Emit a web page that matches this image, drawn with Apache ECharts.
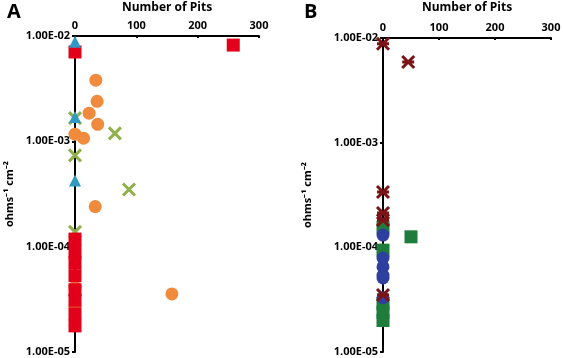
<!DOCTYPE html>
<html>
<head>
<meta charset="utf-8">
<script src="https://cdn.jsdelivr.net/npm/echarts@6/dist/echarts.min.js"></script>
<style>
  html, body { margin: 0; padding: 0; background: #fff; }
  #chart { width: 563px; height: 358px; }
</style>
</head>
<body>
<div id="chart"></div>
<script>
// panel A
var aOrange = [[34, 0.00381], [36, 0.0024], [23, 0.00185], [37, 0.00145], [0, 0.00117], [14, 0.00107],
               [33, 0.00024], [158, 3.56e-5], [0, 7.8e-5], [0, 4.1e-5], [0, 2.7e-5]];
var aGreenX = [[0, 0.00166], [65, 0.00119], [0, 0.000736], [88, 0.000349], [0, 1.38e-4], [0, 3.8e-5]];
var aRed = [[0, 0.00705], [258, 0.0082], [0, 1.18e-4], [0, 9.1e-5], [0, 7.0e-5], [0, 5.3e-5],
            [0, 3.9e-5], [0, 3.1e-5], [0, 2.3e-5], [0, 1.77e-5]];
var aTriangle = [[0, 0.0088], [0, 0.0017], [0, 0.000425]];
// panel B
var bGreen = [[0, 1.56e-4], [50, 1.26e-4], [0, 9.4e-5], [0, 2.9e-5], [0, 2.4e-5], [0, 2.0e-5]];
var bBlue = [[0, 1.31e-4], [0, 7.9e-5], [0, 6.5e-5], [0, 5.4e-5], [0, 5.1e-5], [0, 3.3e-5]];
var bStar = [[0, 0.0088], [45, 0.0059], [0, 3.38e-4], [0, 2.13e-4], [0, 1.82e-4], [0, 3.5e-5]];

var xTicks = [0, 100, 200, 300];

var font = '"Open Sans", "Liberation Sans", sans-serif';

function sciLabel(v) {
    var e = Math.round(Math.log10(v));
    var m = v / Math.pow(10, e);
    var s = e < 0 ? '-' : '+';
    var a = Math.abs(e);
    return m.toFixed(2) + 'E' + s + (a < 10 ? '0' + a : a);
}

function xAx(idx) {
    return {
        gridIndex: idx, type: 'value', position: 'top',
        min: xTicks[0], max: xTicks[xTicks.length - 1], interval: 100,
        name: 'Number of Pits', nameLocation: 'middle', nameGap: idx === 0 ? 22 : 24,
        nameTextStyle: { fontFamily: font, fontWeight: 'bold', fontSize: 12, color: '#000' },
        axisLine: { lineStyle: { color: '#000', width: 2 } },
        axisTick: { show: true, inside: true, length: 2, lineStyle: { color: '#000', width: 2 } },
        axisLabel: { fontFamily: font, fontWeight: 'bold', fontSize: 11, color: '#000', margin: 5 },
        splitLine: { show: false }
    };
}

function yAx(idx) {
    return {
        gridIndex: idx, type: 'log', logBase: 10, min: 1e-5, max: 1e-2,
        name: 'ohms\u207B\u00B9 cm\u207B\u00B2', nameLocation: 'middle', nameRotate: 90,
        nameGap: idx === 0 ? 60 : 70,
        nameTextStyle: { fontFamily: font, fontWeight: 'bold', fontSize: 11, color: '#000' },
        axisLine: { onZero: false, lineStyle: { color: '#000', width: 2 } },
        axisTick: { show: true, length: 3, lineStyle: { color: '#000', width: 2 } },
        minorTick: { show: false },
        axisLabel: { fontFamily: font, fontWeight: 'bold', fontSize: 11, color: '#000', margin: 5,
                     formatter: sciLabel },
        splitLine: { show: false }
    };
}

var xPath = 'path://M0,0L10,10M10,0L0,10';
var starPath = 'path://M0,0L10,10M10,0L0,10M0,5L10,5';

function sc(name, idx, data, symbol, size, color, stroke) {
    var s = {
        name: name, type: 'scatter', xAxisIndex: idx, yAxisIndex: idx,
        data: data, symbol: symbol, symbolSize: size,
        itemStyle: { color: color, opacity: 1 }
    };
    if (stroke) {
        s.itemStyle = { color: 'none', borderColor: color, borderWidth: 3, opacity: 1 };
    }
    return s;
}

var chart = echarts.init(document.getElementById('chart'));
chart.setOption({
    animation: false,
    backgroundColor: '#fff',
    grid: [
        { left: 75, right: 304, top: 36, bottom: 6, outerBoundsMode: 'none', containLabel: false },
        { left: 383, right: 12, top: 38, bottom: 6, outerBoundsMode: 'none', containLabel: false }
    ],
    xAxis: [xAx(0), xAx(1)],
    yAxis: [yAx(0), yAx(1)],
    graphic: [
        { type: 'text', left: 7, top: 2, style: { text: 'A', font: 'bold 20px ' + font, fill: '#000' } },
        { type: 'text', left: 304, top: 2, style: { text: 'B', font: 'bold 20px ' + font, fill: '#000' } }
    ],
    series: [
        sc('orange', 0, aOrange, 'circle', 13, '#f08a3c'),
        sc('greenX', 0, aGreenX, xPath, 12, '#8fb04a', true),
        sc('red', 0, aRed, 'rect', 13, '#e2001a'),
        sc('triangle', 0, aTriangle, 'triangle', 12, '#3399c4'),
        sc('green', 1, bGreen, 'rect', 13, '#1f7d3c'),
        sc('blue', 1, bBlue, 'circle', 13, '#2f3f9f'),
        sc('star', 1, bStar, starPath, 12, '#7b1416', true)
    ]
});
</script>
</body>
</html>
